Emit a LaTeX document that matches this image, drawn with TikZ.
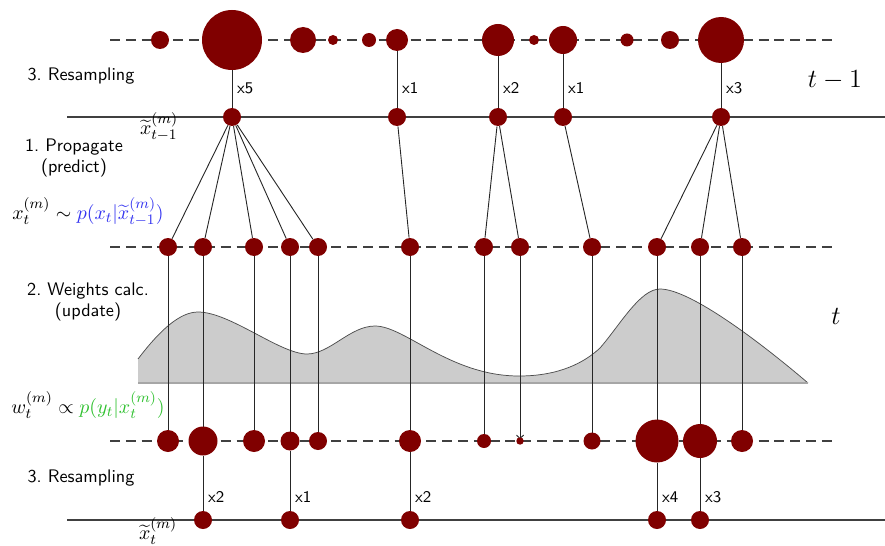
\documentclass[tikz,border=0pt]{standalone}
\usepackage{amsmath}
\usetikzlibrary{arrows.meta,backgrounds}
\definecolor{ptc}{HTML}{800000}
\definecolor{pred}{HTML}{3333F0}
\definecolor{lik}{HTML}{2EC02E}

\begin{document}
\begin{tikzpicture}[x=0.55pt, y=-0.55pt, >={To[length=1.2mm, width=1.5mm]},
  pt/.style={circle, fill=ptc, inner sep=0pt},
  lvl/.style={line width=1.1pt, draw=black!75},
  dsh/.style={line width=0.9pt, draw=black!75, dash pattern=on 5.5pt off 3.2pt},
  link/.style={draw=black!85, line width=0.5pt},
  cnt/.style={font=\sffamily\small, anchor=west, inner sep=1pt},
  lbl/.style={font=\sffamily, align=center},
  mth/.style={font=\fontsize{11}{13}\selectfont}]
\useasboundingbox (0,0) rectangle (885,545);

% weighted particles at t-1
\foreach \x/\r [count=\i] in {160/9, 232/30, 303/13, 333/5, 369/7, 397/11,
    498/16, 534/5, 563/14, 627/6.5, 670/9, 721/23}
  \node[pt, minimum size=\r*1.1pt] (r\i) at (\x,40) {};

% resampled at t-1
\foreach \x/\c [count=\i] in {232/5, 397/1, 498/2, 563/1, 721/3} {
  \node[pt, minimum size=9.9pt] (s\i) at (\x,117) {};
  \node[cnt] (c\i) at (\x+3,88) {x\c};
}

% propagated, then weighted
\foreach \x/\r [count=\i] in {168/11, 203/14.5, 254/11, 290/9.5, 318/9,
    410/11, 484/7, 520/3.7, 592/8.5, 657/21.5, 700/17, 742/11} {
  \node[pt, minimum size=9.9pt] (p\i) at (\x,247) {};
  \node[pt, minimum size=\r*1.1pt] (w\i) at (\x,441) {};
}

% resampled at t
\foreach \x/\c [count=\i] in {203/2, 290/1, 410/2, 657/4, 700/3} {
  \node[pt, minimum size=9.9pt] (n\i) at (\x,520) {};
  \node[cnt] (e\i) at (\x+3,497) {x\c};
}

% labels
\node[lbl] (rs1) at (81,76) {3.\ Resampling};
\node[lbl] (prop) at (74,158) {1.\ Propagate\\(predict)};
\node[lbl] (upd) at (88,302) {2.\ Weights calc.\\(update)};
\node[lbl] (rs2) at (81,478) {3.\ Resampling};
\node[mth] (xt1) at (159,127) {$\widetilde{x}_{t-1}^{(m)}$};
\node[mth] (xt) at (158,531) {$\widetilde{x}_{t}^{(m)}$};
\node[mth] (prd) at (88,212) {$x_t^{(m)} \sim \textcolor{pred}{p(x_t|\widetilde{x}_{t-1}^{(m)})}$};
\node[mth] (wgt) at (88,405) {$w_t^{(m)} \propto \textcolor{lik}{p(y_t|x_t^{(m)})}$};
\node[font=\fontsize{15.5}{18}\selectfont] (tm1) at (835,80) {$t-1$};
\node[font=\fontsize{15.5}{18}\selectfont] (tt) at (836,316) {$t$};

\begin{scope}[on background layer]
\fill[black!20] (138,383) -- (138,359)
  .. controls (160,330) and (180,312) .. (198,312)
  .. controls (230,312) and (280,354) .. (307,354)
  .. controls (330,354) and (350,326) .. (375,326)
  .. controls (405,326) and (450,376) .. (519,376)
  .. controls (560,376) and (585,362) .. (600,348)
  .. controls (620,325) and (640,289) .. (660,289)
  .. controls (690,289) and (760,342) .. (808,383) -- cycle;
\draw[black!70, line width=0.4pt] (138,359)
  .. controls (160,330) and (180,312) .. (198,312)
  .. controls (230,312) and (280,354) .. (307,354)
  .. controls (330,354) and (350,326) .. (375,326)
  .. controls (405,326) and (450,376) .. (519,376)
  .. controls (560,376) and (585,362) .. (600,348)
  .. controls (620,325) and (640,289) .. (660,289)
  .. controls (690,289) and (760,342) .. (808,383);
\draw[black!35, line width=0.6pt] (138,383) -- (808,383);
\draw[dsh] (110,40) -- (835,40);
\draw[lvl] (67,117) -- (885,117);
\draw[dsh] (110,247) -- (835,247);
\draw[dsh] (110,441) -- (835,441);
\draw[lvl] (67,520) -- (885,520);
\foreach \a/\b in {2/1, 6/2, 7/3, 9/4, 12/5}
  \draw[link] (r\a) -- (s\b);
\foreach \a/\b in {1/1, 1/2, 1/3, 1/4, 1/5, 2/6, 3/7, 3/8, 4/9, 5/10, 5/11, 5/12}
  \draw[link] (s\a) -- (p\b);
\foreach \i in {1,...,12}
  \draw[link, ->] (p\i) -- (w\i.center);
\foreach \a/\b in {2/1, 4/2, 6/3, 10/4, 11/5}
  \draw[link] (w\a) -- (n\b);
\end{scope}
\end{tikzpicture}
\end{document}
